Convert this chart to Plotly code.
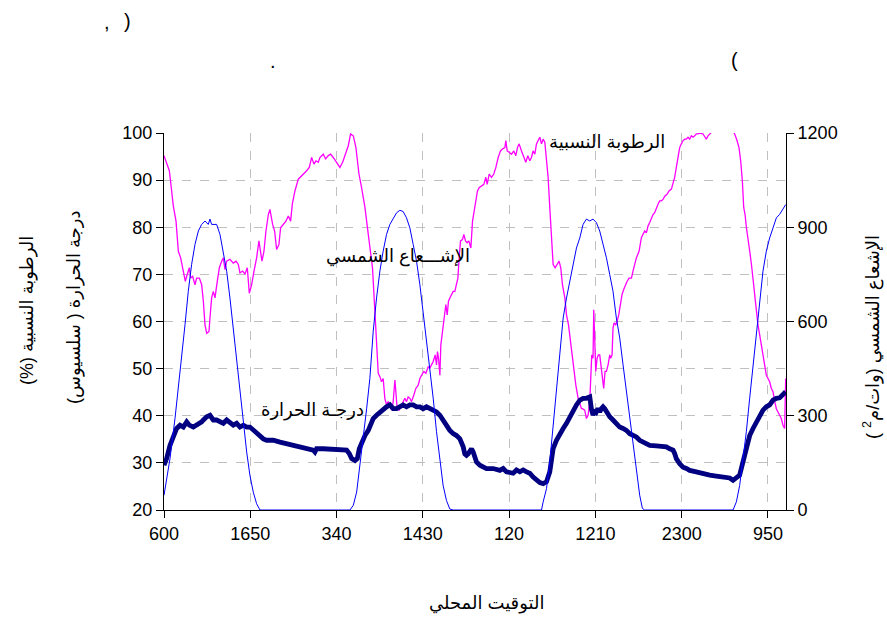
import plotly.graph_objects as go

# ---------------- data ----------------
# elapsed hours since 06:00 of day 1
tick_labels = ["600", "1650", "340", "1430", "120", "1210", "2300", "950"]

rh_hours = [0.00, 0.67, 0.96, 1.17, 1.51, 1.80, 2.09, 2.43, 2.68, 2.85, 3.18, 3.35, 3.60, 3.89, 4.10, 4.44,
            4.73, 4.94, 5.15, 5.36, 5.65, 5.77, 5.98, 6.19, 6.40, 6.69, 6.95, 7.24, 7.45, 7.66, 7.87, 8.28,
            8.70, 9.04, 9.33, 9.54, 9.87, 10.17, 10.46, 10.71, 11.00, 11.30, 11.63, 11.92, 12.13, 12.30,
            12.55, 12.80, 13.10, 13.30, 13.64, 13.89, 14.14, 14.43, 14.64, 14.98, 15.31, 15.61, 15.90,
            16.11, 16.44, 16.86, 17.28, 17.57, 17.91, 18.24, 18.54, 18.83, 19.08, 19.37, 19.58, 20.00,
            20.29, 20.63, 20.92, 21.25, 21.67, 22.09, 22.43, 22.76, 23.14, 23.43, 23.77, 24.10, 24.48,
            24.81, 25.23, 25.65, 25.94, 26.18, 26.48, 26.69, 26.90, 27.11, 27.31, 27.52, 27.73, 27.94,
            28.15, 28.36, 28.57, 28.78, 28.99, 29.11, 29.28, 29.53, 29.82, 30.03, 30.24, 30.45, 30.66,
            30.87, 31.08, 31.37, 31.62, 31.92, 32.13, 32.34, 32.63, 32.88, 33.17, 33.38, 33.59, 33.80,
            34.05, 34.22, 34.34, 34.47, 34.64, 34.76, 34.97, 35.14, 35.39, 35.56, 35.72, 35.89, 36.10,
            36.31, 36.52, 36.73, 36.90, 37.06, 37.23, 37.48, 37.65, 37.86, 38.07, 38.28, 38.53, 38.74,
            38.95, 39.16, 39.36, 39.57, 39.87, 40.16, 40.41, 40.58, 40.83, 41.12, 41.41, 41.67, 41.96,
            42.25, 42.50, 42.80, 42.92, 43.09, 43.34, 43.63, 43.92, 44.18, 44.38, 44.59, 44.89, 45.18,
            45.43, 45.68, 45.93, 46.14, 46.35, 46.56, 46.77, 46.98, 47.19, 47.40, 47.61, 47.82, 48.03,
            48.23, 48.44, 48.65, 48.86, 49.11, 49.36, 49.61, 49.82, 50.03, 50.33, 50.54, 50.79, 51.04,
            51.37, 51.71, 52.00, 52.42, 52.53, 52.83, 53.04, 53.25, 53.46, 53.58, 53.71, 53.87, 53.96,
            54.08, 54.21, 54.38, 54.54, 54.71, 54.88, 55.05, 55.21, 55.38, 55.55, 55.76, 55.97, 56.09,
            56.26, 56.38, 56.51, 56.72, 56.89, 57.10, 57.30, 57.51, 57.72, 57.93, 58.14, 58.39, 58.69,
            58.89, 59.10, 59.31, 59.65, 59.94, 60.15, 60.36, 60.57, 60.78, 60.99, 61.20, 61.40, 61.61,
            61.82, 62.03, 62.24, 62.45, 62.66, 62.87, 63.16, 63.41, 63.71, 63.92, 64.12, 64.33, 64.54,
            64.75, 64.96, 65.17, 65.38, 65.59, 65.80, 66.01, 66.22, 66.43, 66.63, 66.84, 67.05, 67.26,
            67.68, 67.89, 68.10, 68.31, 68.52, 68.73, 69.77, 70.82, 71.66, 71.95, 72.20, 72.41, 72.62,
            72.79, 72.96, 73.13, 73.34, 73.55, 73.76, 73.87, 74.04, 74.21, 74.38, 74.58, 74.79, 75.00,
            75.21, 75.42, 75.63, 75.84, 76.05, 76.26, 76.47, 76.68, 76.89, 77.09, 77.30, 77.51, 77.72,
            77.93, 78.06]
rh_values = [95.2, 92.0, 87.7, 84.5, 81.3, 74.9, 73.5, 70.7, 68.5, 69.6, 71.4, 69.2, 69.6, 67.8, 69.2, 69.2,
             67.8, 64.3, 59.3, 57.5, 57.9, 60.7, 65.0, 66.4, 65.0, 68.5, 71.4, 72.8, 73.5, 71.0, 72.8, 73.2,
             72.4, 72.8, 72.1, 70.3, 70.7, 70.1, 71.4, 66.0, 67.8, 70.7, 73.5, 77.1, 74.9, 72.8,
             74.9, 79.2, 82.7, 83.8, 80.6, 79.2, 75.3, 76.3, 79.9, 80.6, 81.3, 82.4, 81.3,
             84.9, 87.7, 90.2, 90.9, 91.3, 92.0, 92.7, 94.8, 93.4, 94.1, 93.8, 94.8, 95.5,
             94.5, 95.2, 95.5, 94.8, 93.8, 92.7, 93.8, 95.5, 97.3, 99.8, 99.4, 96.9, 91.3,
             88.4, 84.2, 78.5, 74.2, 71.4, 62.1, 55.8, 49.0, 48.3, 47.2, 47.9, 43.7, 42.3,
             43.0, 42.3, 41.2, 43.0, 47.6, 45.1, 41.5, 41.2, 42.3, 43.0, 43.7, 43.0, 44.0,
             43.7, 43.0, 44.4, 45.8, 46.5, 47.9, 48.6, 49.4, 49.0, 50.4, 50.1, 50.8, 51.5,
             52.9, 50.8, 53.6, 52.2, 48.6, 55.0, 57.9, 60.0, 63.6, 61.4, 64.3, 65.0, 65.7,
             66.4, 66.4, 67.8, 69.2, 73.5, 77.1, 77.4, 78.5, 77.1, 76.7, 77.1, 75.6, 81.3,
             83.5, 86.3, 87.7, 88.4, 88.8, 89.1, 90.6, 89.1, 91.3, 90.6, 91.3, 92.7, 94.8,
             96.2, 96.6, 96.9, 98.4, 96.2, 95.9, 95.5, 96.2, 95.2, 96.9, 97.7, 96.2, 94.8,
             93.8, 95.2, 94.1, 94.8, 96.2, 95.5, 97.7, 98.4, 99.1, 97.7, 98.7, 98.0, 94.8,
             90.6, 84.2, 78.5, 72.1, 71.4, 72.1, 72.8, 71.4, 67.8, 65.0, 61.4, 59.3, 55.8,
             50.8, 46.5, 43.7, 41.5, 41.5, 41.2, 39.4, 40.1, 43.0, 47.9, 52.9, 52.2, 62.5,
             56.5, 49.4, 52.2, 52.9, 52.9, 50.8, 47.9, 45.8, 49.4, 49.4, 50.8, 52.9, 52.2,
             52.9, 58.6, 59.7, 59.3, 60.0, 61.4, 63.6, 65.7, 66.8, 67.8, 68.5, 69.2, 69.2,
             70.7, 72.1, 73.5, 74.9, 77.8, 78.5, 79.2, 78.8, 80.3, 81.0, 82.0, 82.7, 83.1,
             84.2, 84.9, 85.6, 85.6, 85.9, 86.6, 87.0, 87.7, 88.1, 89.5, 90.6, 92.7, 95.2,
             96.9, 97.7, 98.4, 98.7, 98.7, 99.1, 98.7, 99.4, 99.1, 99.4, 99.8, 99.8, 100.0,
             99.8, 99.1, 98.7, 99.4, 99.8, 100.0, 102.0, 102.0, 99.8, 98.4, 96.9, 94.1, 89.8,
             84.2, 82.7, 79.9, 77.8, 74.9, 72.1, 70.7, 67.8, 65.0, 62.1, 59.3, 57.2, 55.0,
             52.9, 50.1, 48.6, 47.9, 47.2, 45.8, 45.1, 43.0, 41.5, 40.8, 40.1, 39.4, 38.0,
             37.3, 47.9]

rad_hours = [0.00, 0.75, 1.38, 1.80, 2.22, 2.64, 3.05, 3.47, 3.89, 4.31, 4.73, 5.15, 5.56, 5.77, 5.98, 6.40,
             6.61, 7.03, 7.45, 7.87, 8.28, 8.70, 9.12, 9.54, 9.96, 10.38, 10.79, 11.21, 11.63, 12.05,
             23.35, 23.77, 24.19, 24.60, 25.02, 25.44, 25.85, 26.27, 26.69, 27.11, 27.52, 27.94, 28.36,
             28.78, 29.20, 29.62, 30.03, 30.45, 30.87, 31.29, 31.71, 32.13, 32.54, 32.96, 33.38, 33.80,
             34.22, 34.64, 35.05, 35.47, 35.89, 36.31, 47.40, 47.61, 48.03, 48.44, 48.86, 49.28, 49.70,
             50.12, 50.54, 50.95, 51.37, 51.79, 52.21, 52.62, 53.04, 53.46, 53.87, 54.29, 54.71, 55.13,
             55.55, 55.97, 56.38, 56.80, 57.22, 57.64, 58.06, 58.48, 58.89, 59.31, 59.73, 60.07, 60.36,
             71.45, 71.87, 72.28, 72.70, 73.12, 73.54, 73.96, 74.38, 74.79, 75.21, 75.63, 76.05, 76.47,
             76.89, 77.30, 77.72, 78.06]
rad_values = [47, 163, 291, 387, 483, 590, 696, 782, 845, 888, 909, 920, 909, 926, 909, 909,
              909, 877, 824, 760, 675, 579, 483, 376, 270, 185, 110, 57, 20, 0,
              0, 15, 57, 140, 225, 322, 419, 569, 675, 761, 824, 877, 909,
              930, 946, 954, 950, 930, 898, 845, 792, 717, 632, 537, 451, 356,
              249, 153, 78, 30, 3, 0, 0, 26, 68, 153, 270, 387, 504,
              611, 675, 728, 781, 834, 866, 909, 926, 920, 926, 915, 888, 845,
              803, 749, 696, 611, 548, 462, 376, 291, 216, 121, 47, 5, 0,
              0, 26, 78, 163, 249, 356, 462, 568, 675, 760, 824, 866, 898,
              930, 941, 956, 972]

temp_hours = [0.00, 0.33, 0.75, 1.17, 1.59, 2.01, 2.43, 2.85, 3.18, 3.68, 4.10, 4.73, 4.94, 5.36, 5.77, 6.19,
              6.61, 7.03, 7.45, 7.87, 8.28, 8.70, 9.12, 9.54, 9.96, 10.38, 10.79, 11.21, 11.63, 12.05,
              12.47, 12.89, 13.72, 14.56, 15.40, 16.23, 17.07, 17.91, 18.74, 18.95, 19.16, 20.00, 20.84,
              21.67, 22.93, 23.26, 23.56, 23.98, 24.27, 24.52, 24.81, 25.23, 25.65, 26.27, 26.69, 27.11,
              27.52, 27.94, 28.36, 28.78, 29.20, 29.62, 30.03, 30.45, 30.87, 31.29, 31.71, 32.13, 32.54,
              32.96, 33.38, 33.80, 34.22, 34.64, 35.05, 35.47, 35.89, 36.31, 36.73, 37.15, 37.57, 37.77,
              37.98, 38.19, 38.40, 38.61, 38.82, 39.03, 39.24, 39.66, 40.08, 40.49, 41.33, 42.17, 42.59,
              43.00, 43.84, 44.26, 44.68, 45.10, 45.52, 45.93, 46.35, 46.77, 47.19, 47.61, 48.03, 48.44,
              48.65, 48.86, 49.28, 49.70, 50.12, 50.54, 50.95, 51.37, 51.79, 52.21, 52.62, 53.04, 53.25,
              53.46, 53.66, 53.87, 54.08, 54.29, 54.50, 54.71, 54.92, 55.13, 55.34, 55.55, 55.76, 55.97,
              56.38, 56.80, 57.22, 57.64, 58.06, 58.48, 58.89, 59.31, 59.73, 60.15, 60.57, 60.99, 61.82,
              62.66, 63.08, 63.50, 63.92, 64.12, 64.33, 64.75, 65.17, 65.59, 66.01, 66.84, 67.68, 68.52,
              69.35, 70.19, 71.03, 71.45, 71.87, 72.28, 72.70, 72.91, 73.12, 73.54, 73.96, 74.38, 74.79,
              75.21, 75.63, 76.05, 76.47, 76.89, 77.30, 77.72, 78.06]
temp_values = [29.5, 30.9, 33.7, 35.9, 37.3, 38.0, 37.6, 38.7, 38.0, 37.6, 38.0, 38.7, 39.1, 39.8, 40.1, 39.1,
               39.1, 38.7, 38.4, 39.1, 38.4, 38.0, 38.4, 37.6, 38.0, 37.6, 37.6, 36.9, 36.2, 35.5,
               35.1, 34.8, 34.8, 34.4, 34.1, 33.7, 33.4, 33.0, 32.7, 32.3, 33.0, 33.0, 32.9,
               32.7, 32.7, 32.0, 30.9, 30.5, 30.9, 33.0, 34.4, 35.8, 36.9, 39.4, 40.1, 40.8,
               41.5, 41.9, 42.3, 41.5, 41.5, 41.9, 42.3, 41.9, 42.3, 42.3, 41.9, 41.9, 41.5,
               41.9, 41.5, 41.2, 40.8, 40.1, 39.0, 37.9, 36.9, 36.2, 35.8, 35.1, 33.4, 31.9,
               31.6, 31.9, 32.6, 33.0, 32.3, 31.2, 30.2, 29.5, 29.1, 28.8, 28.8, 28.4, 28.8,
               28.1, 27.8, 28.5, 28.1, 28.5, 28.1, 27.8, 27.0, 26.3, 25.8, 25.6, 26.0, 28.1,
               30.9, 33.0, 34.8, 36.2, 37.3, 38.4, 39.8, 40.8, 42.3, 43.3, 43.7, 43.7, 44.0,
               44.0, 41.5, 40.1, 41.2, 40.8, 41.5, 40.8, 41.5, 41.9, 41.5, 40.8, 40.5, 39.8,
               39.1, 38.4, 37.6, 37.3, 36.9, 36.2, 35.9, 35.5, 34.8, 34.4, 34.1, 33.7, 33.6,
               33.4, 33.4, 33.0, 32.7, 32.0, 30.9, 29.8, 29.1, 28.8, 28.4, 28.1, 27.7, 27.4,
               27.2, 27.0, 26.8, 26.3, 27.0, 27.4, 30.2, 31.6, 33.7, 35.8, 37.3, 38.7, 40.1,
               41.2, 41.9, 42.3, 43.3, 43.7, 43.8, 44.4, 45.1]

# ---------------- tick positions from the time labels ----------------
def to_min(s):
    v = int(s)
    return (v // 100) * 60 + v % 100

tick_vals = [0.0]
for a, b in zip(tick_labels[:-1], tick_labels[1:]):
    tick_vals.append(tick_vals[-1] + ((to_min(b) - to_min(a)) % 1440) / 60.0)

FONT = "Liberation Sans, Arial, DejaVu Sans, sans-serif"
RLM = "\u200F"

fig = go.Figure()
fig.add_trace(go.Scatter(x=rh_hours, y=rh_values, mode="lines",
                         line=dict(color="#FF00FF", width=1.3), yaxis="y"))
fig.add_trace(go.Scatter(x=rad_hours, y=rad_values, mode="lines",
                         line=dict(color="#0000FF", width=1), yaxis="y2"))
fig.add_trace(go.Scatter(x=temp_hours, y=temp_values, mode="lines",
                         line=dict(color="#000080", width=4.8), yaxis="y"))

grid = dict(showgrid=True, gridcolor="#c0c0c0", griddash="dash", gridwidth=1)

fig.update_layout(
    width=887, height=624,
    margin=dict(l=164, r=101, t=133, b=114),
    paper_bgcolor="white", plot_bgcolor="white",
    showlegend=False,
    font=dict(family=FONT, size=18, color="black"),
    xaxis=dict(range=[0, 78.1], tickmode="array", tickvals=tick_vals, ticktext=tick_labels,
               ticks="outside", ticklen=7, tickcolor="black", showline=True, linecolor="black",
               linewidth=1, zeroline=False, tickfont=dict(size=18), **grid),
    yaxis=dict(range=[20, 100], dtick=10, ticks="outside", ticklen=7, tickcolor="black",
               showline=True, linecolor="black", linewidth=1, zeroline=False,
               tickfont=dict(size=18), **grid),
    yaxis2=dict(range=[0, 1200], dtick=300, overlaying="y", side="right", ticks="outside",
                ticklen=7, tickcolor="black", showline=True, linecolor="black", linewidth=1,
                showgrid=False, zeroline=False, tickfont=dict(size=18)),
)

ann = []
def paper(text, x, y, size=18, angle=0):
    ann.append(dict(text=text, xref="paper", yref="paper", x=x, y=y, showarrow=False,
                    textangle=angle, font=dict(size=size, family=FONT, color="black"),
                    xanchor="center", yanchor="middle"))

paper(",", -0.0916, 1.294, 20)
paper(")", -0.0579, 1.297, 20)
paper(".", 0.175, 1.191, 20)
paper("(", 0.918, 1.194, 20)
paper(RLM + "الرطوبة النسبية (%)" + RLM, -0.2203, 0.5305, 18, -90)
paper(RLM + "درجة الحرارة ( سلسيوس)" + RLM, -0.1431, 0.5385, 18, -90)
paper(RLM + "الإشعاع الشمسي (وات/م<sup>2</sup> )" + RLM, 1.1383, 0.4589, 18, -90)
paper("التوقيت المحلي", 0.519, -0.249, 18)

for text, x, y in [("الرطوبة النسبية", 55.6, 97.9),
                   ("الإشـــعاع الشمسي", 29.4, 73.8),
                   ("درجـة الحرارة", 18.6, 41.2)]:
    ann.append(dict(text=text, x=x, y=y, xref="x", yref="y", showarrow=False,
                    font=dict(size=18, family=FONT, color="black"),
                    bgcolor="rgba(0,0,0,0)"))

fig.update_layout(annotations=ann)
fig.write_html("out.html", config={"displayModeBar": False},
               post_script="document.body.style.margin='0';")
